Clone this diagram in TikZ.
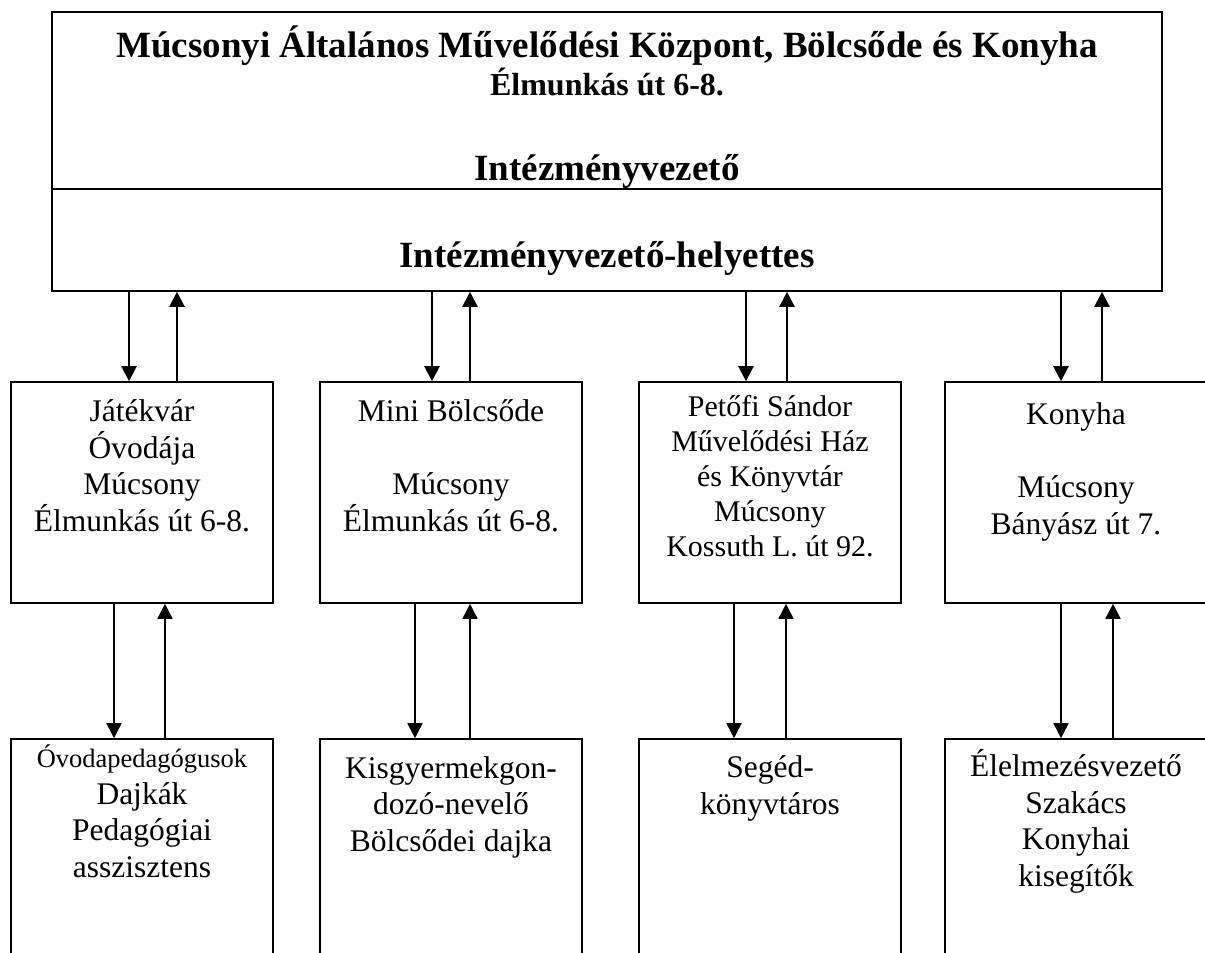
\documentclass[tikz,border=0pt]{standalone}
\usepackage{fontspec}
\setmainfont{Liberation Serif}
\usetikzlibrary{arrows.meta}
\usetikzlibrary{positioning,calc}
\newcommand*{\kapcs}[5][nyil]{%
  \draw [#1] ($(#2.south -| #3.north)+(#4,0)$) -- ($(#3.north)+(#4,0)$);
  \draw [#1] ($(#3.north)+(#5,0)$) -- ($(#2.south -| #3.north)+(#5,0)$);
}
\begin{document}
\begin{tikzpicture}[x=1pt, y=-1pt,
    box/.style = {draw, line width=1.6pt, inner sep=0pt, minimum width=262pt},
    nyil/.style = {-{Triangle[length=15pt,width=15pt]}, line width=2.2pt}]
  \tikzset{vekony/.style={nyil, line width=1.7pt},
    fej/.style={font=\fontsize{37}{44}\selectfont\bfseries, anchor=base},
    szoveg/.style={align=center, font=\fontsize{31.5}{36.5}\selectfont}}
  \useasboundingbox (0,0) rectangle (1205,953);
  \clip (0,0) rectangle (1205,953);
  \node [box, minimum width=1110pt, minimum height=279pt] (kozpont) at (607,151.5) {};
  \coordinate (valaszto) at (607,189);
  \draw [line width=1.6pt] (kozpont.west |- valaszto) -- (kozpont.east |- valaszto);
  \node [fej] (nev) at (607,57) {Múcsonyi Általános Művelődési Központ, Bölcsőde és Konyha};
  \node [fej, font=\fontsize{32}{38}\selectfont\bfseries] (cim) at (607,95) {Élmunkás út 6-8.};
  \node [fej] (vezeto) at (607,180) {Intézményvezető};
  \node [fej] (helyettes) at (607,267) {Intézményvezető-helyettes};

  \node [box, minimum height=221pt] (ovoda) at (142,492.5) {};
  \node [box, minimum height=221pt] (bolcsode) at (451,492.5) {};
  \node [box, minimum height=221pt] (muvhaz) at (770,492.5) {};
  \node [box, minimum height=221pt] (konyha) at (1076,492.5) {};
  \node [box, minimum height=261pt] (ovodasz) at (142,869.5) {};
  \node [box, minimum height=261pt] (bolcssz) at (451,869.5) {};
  \node [box, minimum height=261pt] (konyvsz) at (770,869.5) {};
  \node [box, minimum height=261pt] (konyhasz) at (1076,869.5) {};

  \node [szoveg, below=150pt of ovoda.north, anchor=base] (ovodatx)
    {Játékvár\\Óvodája\\Múcsony\\Élmunkás út 6-8.};
  \node [szoveg, below=150pt of bolcsode.north, anchor=base] (bolcsodetx)
    {Mini Bölcsőde\\ \mbox{}\\Múcsony\\Élmunkás út 6-8.};
  \node [szoveg, font=\fontsize{30}{35}\selectfont, below=175pt of muvhaz.north, anchor=base] (muvhaztx)
    {Petőfi Sándor\\Művelődési Ház\\és Könyvtár\\Múcsony\\Kossuth L. út 92.};
  \node [szoveg, below=153pt of konyha.north, anchor=base] (konyhatx)
    {Konyha\\ \mbox{}\\Múcsony\\Bányász út 7.};
  \node [szoveg, below=139pt of ovodasz.north, anchor=base] (ovodasztx)
    {{\fontsize{26.5}{34}\selectfont Óvodapedagógusok}\\Dajkák\\Pedagógiai\\asszisztens};
  \node [szoveg, below=113pt of bolcssz.north, anchor=base] (bolcssztx)
    {Kisgyermekgon-\\dozó-nevelő\\Bölcsődei dajka};
  \node [szoveg, below=76pt of konyvsz.north, anchor=base] (konyvsztx)
    {Segéd-\\könyvtáros};
  \node [szoveg, below=148pt of konyhasz.north, anchor=base] (konyhasztx)
    {Élelmezésvezető\\Szakács\\Konyhai\\kisegítők};

  \kapcs{kozpont}{ovoda}{-13}{35}
  \kapcs{kozpont}{bolcsode}{-19}{19}
  \kapcs{kozpont}{muvhaz}{-24}{17}
  \kapcs{kozpont}{konyha}{-15}{26}
  \kapcs[vekony]{ovoda}{ovodasz}{-28}{23}
  \kapcs[vekony]{bolcsode}{bolcssz}{-36}{19}
  \kapcs[vekony]{muvhaz}{konyvsz}{-36}{16}
  \kapcs[vekony]{konyha}{konyhasz}{-15}{37}
\end{tikzpicture}
\end{document}
